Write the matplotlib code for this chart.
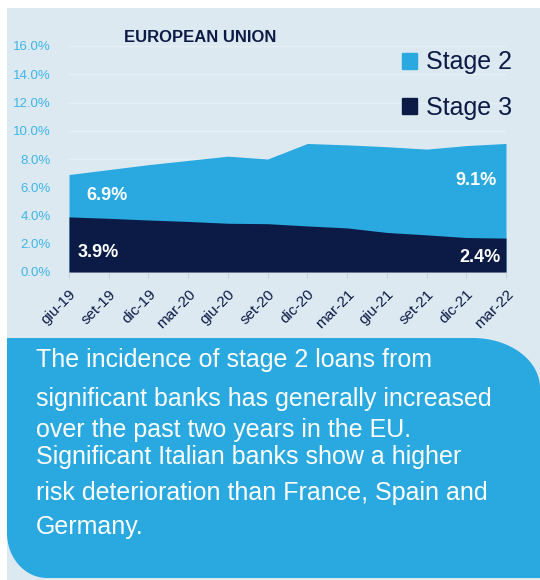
import numpy as np
import matplotlib.pyplot as plt
from matplotlib.path import Path
from matplotlib.patches import PathPatch, Rectangle, Patch

plt.rcParams['font.family'] = ['Liberation Sans', 'DejaVu Sans']

# data (% of loans)
periods = ['giu-19', 'set-19', 'dic-19', 'mar-20', 'giu-20', 'set-20',
           'dic-20', 'mar-21', 'giu-21', 'set-21', 'dic-21', 'mar-22']
stage2 = [6.9, 7.25, 7.6, 7.9, 8.2, 8.0, 9.1, 9.0, 8.87, 8.7, 8.95, 9.1]
stage3 = [3.9, 3.8, 3.68, 3.58, 3.45, 3.42, 3.26, 3.12, 2.8, 2.63, 2.44, 2.4]
yticks = [0, 2, 4, 6, 8, 10, 12, 14, 16]
title = 'EUROPEAN UNION'
note_lines = ['The incidence of stage 2 loans from',
              'significant banks has generally increased',
              'over the past two years in the EU.',
              'Significant Italian banks show a higher',
              'risk deterioration than France, Spain and',
              'Germany.']

c_s2 = '#29a9e0'
c_s3 = '#0c1a46'
c_bg = '#dde9f1'
c_tick = '#3db5e8'

W, H = 540, 580
fig = plt.figure(figsize=(W / 100, H / 100), dpi=100, facecolor='white')

def fx(px):
    return px / W

def fy(py):
    return 1 - py / H

# light panel behind the chart
fig.patches.append(Rectangle((fx(7), 0), 1 - fx(7), fy(8), transform=fig.transFigure,
                             facecolor=c_bg, edgecolor='none', zorder=-2))

ax = fig.add_axes([fx(69), fy(272), fx(506) - fx(69), fy(46) - fy(272)])
ax.set_zorder(2)
ax.set_facecolor('none')
x = np.arange(len(periods))
ax.fill_between(x, 0, stage2, color=c_s2, lw=0, zorder=2)
ax.fill_between(x, 0, stage3, color=c_s3, lw=0, zorder=3)

ax.set_xlim(0, len(periods) - 1)
ax.set_ylim(0, 16)
ax.set_yticks(yticks)
ax.set_yticklabels([f'{v:.1f}%' for v in yticks], color=c_tick, fontsize=9.5)
ax.tick_params(axis='y', length=0, pad=13)
ax.yaxis.grid(True, color='#e6eff5', lw=1)
ax.set_axisbelow(True)
ax.set_xticks(x)
ax.set_xticklabels(periods, rotation=45, ha='right', rotation_mode='anchor',
                   color=c_s3, fontsize=11)
ax.tick_params(axis='x', length=4, color='#c9d2de', pad=7)
for s in ['top', 'right', 'left']:
    ax.spines[s].set_visible(False)
ax.spines['bottom'].set_color('#c9d2de')

# value labels
lab = dict(color='white', fontsize=13, fontweight='bold', ha='center', va='center', zorder=5)
ax.text(0.96, 5.4, f'{stage2[0]:.1f}%', **lab)
ax.text(0.73, 1.4, f'{stage3[0]:.1f}%', **lab)
ax.text(10.25, 6.5, f'{stage2[-1]:.1f}%', **lab)
ax.text(10.35, 1.0, f'{stage3[-1]:.1f}%', **lab)

fig.text(fx(200), fy(38), title, color=c_s3, fontsize=12, fontweight='bold',
         ha='center', va='center')

handles = [Patch(color=c_s2, label='Stage 2'), Patch(color=c_s3, label='Stage 3')]
fig.legend(handles=handles, loc='upper left', bbox_to_anchor=(fx(379), fy(28)),
           frameon=False, fontsize=18, handlelength=0.6, handleheight=0.6,
           handletextpad=0.4, labelspacing=0.85, labelcolor=c_s3)

# rounded note box at the bottom
x0, x1, y0, y1 = 7, 540, 338, 578
rx1, ry1 = 67, 50   # top-right corner
rx2, ry2 = 40, 45   # bottom-left corner
k = 0.5523
pts = [(x0, y0), (x1 - rx1, y0),
       (x1 - rx1 + k * rx1, y0), (x1, y0 + ry1 - k * ry1), (x1, y0 + ry1),
       (x1, y1), (x0 + rx2, y1),
       (x0 + rx2 - k * rx2, y1), (x0, y1 - ry2 + k * ry2), (x0, y1 - ry2),
       (x0, y0)]
codes = [Path.MOVETO, Path.LINETO,
         Path.CURVE4, Path.CURVE4, Path.CURVE4,
         Path.LINETO, Path.LINETO,
         Path.CURVE4, Path.CURVE4, Path.CURVE4,
         Path.CLOSEPOLY]
box = Path([(fx(a), fy(b)) for a, b in pts], codes)
fig.patches.append(PathPatch(box, transform=fig.transFigure, facecolor=c_s2,
                             edgecolor='none', zorder=-1))

line_y = [360, 399, 430, 457, 493, 527]
for t, yy in zip(note_lines, line_y):
    fig.text(fx(36), fy(yy), t, color='white', fontsize=18, ha='left', va='center')

fig.savefig('out.png', dpi=100, facecolor='white')
